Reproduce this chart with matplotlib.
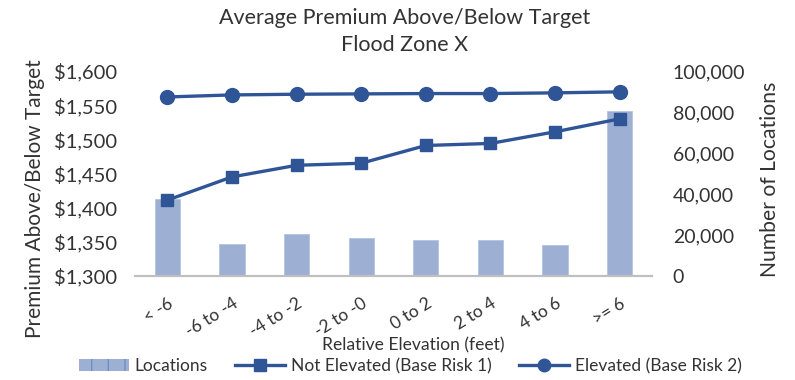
import matplotlib.pyplot as plt
from matplotlib.patches import Patch
from matplotlib.lines import Line2D
from matplotlib.ticker import FuncFormatter

plt.rcParams['font.family'] = ['Lato', 'DejaVu Sans']

categories = ["< -6", "-6 to -4", "-4 to -2", "-2 to -0", "0 to 2", "2 to 4", "4 to 6", ">= 6"]
locations = [37400, 15500, 20600, 18700, 17400, 17400, 15100, 80500]
not_elevated = [1411, 1445, 1462, 1465, 1491, 1494, 1511, 1530]
elevated = [1562, 1565, 1566, 1566.5, 1567, 1567, 1568, 1569.5]

line_col = "#2F5597"
bar_col = "#9DB0D3"
txt_col = "#333333"

W, H = 795, 380
fig = plt.figure(figsize=(W / 100, H / 100), dpi=100)
ax = fig.add_axes([135 / W, 1 - 276 / H, 517 / W, 205 / H])
ax2 = ax.twinx()

x = list(range(len(categories)))

# bars on the right axis, lines on the left axis
ax2.bar(x, locations, width=0.39, color=bar_col, edgecolor="#B4C4E0", linewidth=0.6, zorder=1)
ax.set_zorder(ax2.get_zorder() + 1)
ax.patch.set_visible(False)

ax.plot(x, not_elevated, color=line_col, lw=2.4, marker='s', ms=9, zorder=3)
ax.plot(x, elevated, color=line_col, lw=2.4, marker='o', ms=10, zorder=3)

ax.set_xlim(-0.5, len(categories) - 0.5)
ax.set_ylim(1300, 1600)
ax.set_yticks(range(1300, 1601, 50))
ax.yaxis.set_major_formatter(FuncFormatter(lambda v, p: "${:,.0f}".format(v)))
ax2.set_ylim(0, 100000)
ax2.set_yticks(range(0, 100001, 20000))
ax2.yaxis.set_major_formatter(FuncFormatter(lambda v, p: "{:,.0f}".format(v)))

for a in (ax, ax2):
    for s in ("top", "left", "right"):
        a.spines[s].set_visible(False)
    a.spines["bottom"].set_color("#BFBFBF")
    a.spines["bottom"].set_linewidth(1.5)
    a.tick_params(axis='y', length=0, labelsize=14.5, colors=txt_col)
ax.tick_params(axis='y', pad=13)
ax2.tick_params(axis='y', pad=15, labelsize=14)

ax.set_xticks(x)
ax.set_xticklabels(categories, rotation=32, ha='right', rotation_mode='anchor')
ax.tick_params(axis='x', length=0, labelsize=12.5, colors=txt_col, pad=14)

fig.text(35 / W, 1 - 199 / H, "Premium Above/Below Target", rotation=90, ha='center', va='center',
         fontsize=15, color=txt_col)
fig.text(770 / W, 1 - 179 / H, "Number of Locations", rotation=90, ha='center', va='center',
         fontsize=15.2, color=txt_col)
fig.text(413 / W, 1 - 345 / H, "Relative Elevation (feet)", ha='center', va='center',
         fontsize=12.6, color=txt_col)
fig.text(405 / W, 1 - 18 / H, "Average Premium Above/Below Target", ha='center', va='center',
         fontsize=15.5, color=txt_col)
fig.text(405 / W, 1 - 45 / H, "Flood Zone X", ha='center', va='center',
         fontsize=15.5, color=txt_col)

handles = [
    Patch(facecolor=bar_col, edgecolor="#6F8DC6", hatch='+', linewidth=0),
    Line2D([], [], color=line_col, lw=2.4, marker='s', ms=9),
    Line2D([], [], color=line_col, lw=2.4, marker='o', ms=9),
]
labels = ["Locations", "Not Elevated (Base Risk 1)", "Elevated (Base Risk 2)"]
fig.legend(handles, labels, loc='center', bbox_to_anchor=(410 / W, 1 - 366 / H), ncol=3,
           frameon=False, fontsize=12.5, handlelength=2.9, handletextpad=0.3,
           columnspacing=1.6, labelcolor=txt_col, borderpad=0)

fig.savefig("out.png", dpi=100)
